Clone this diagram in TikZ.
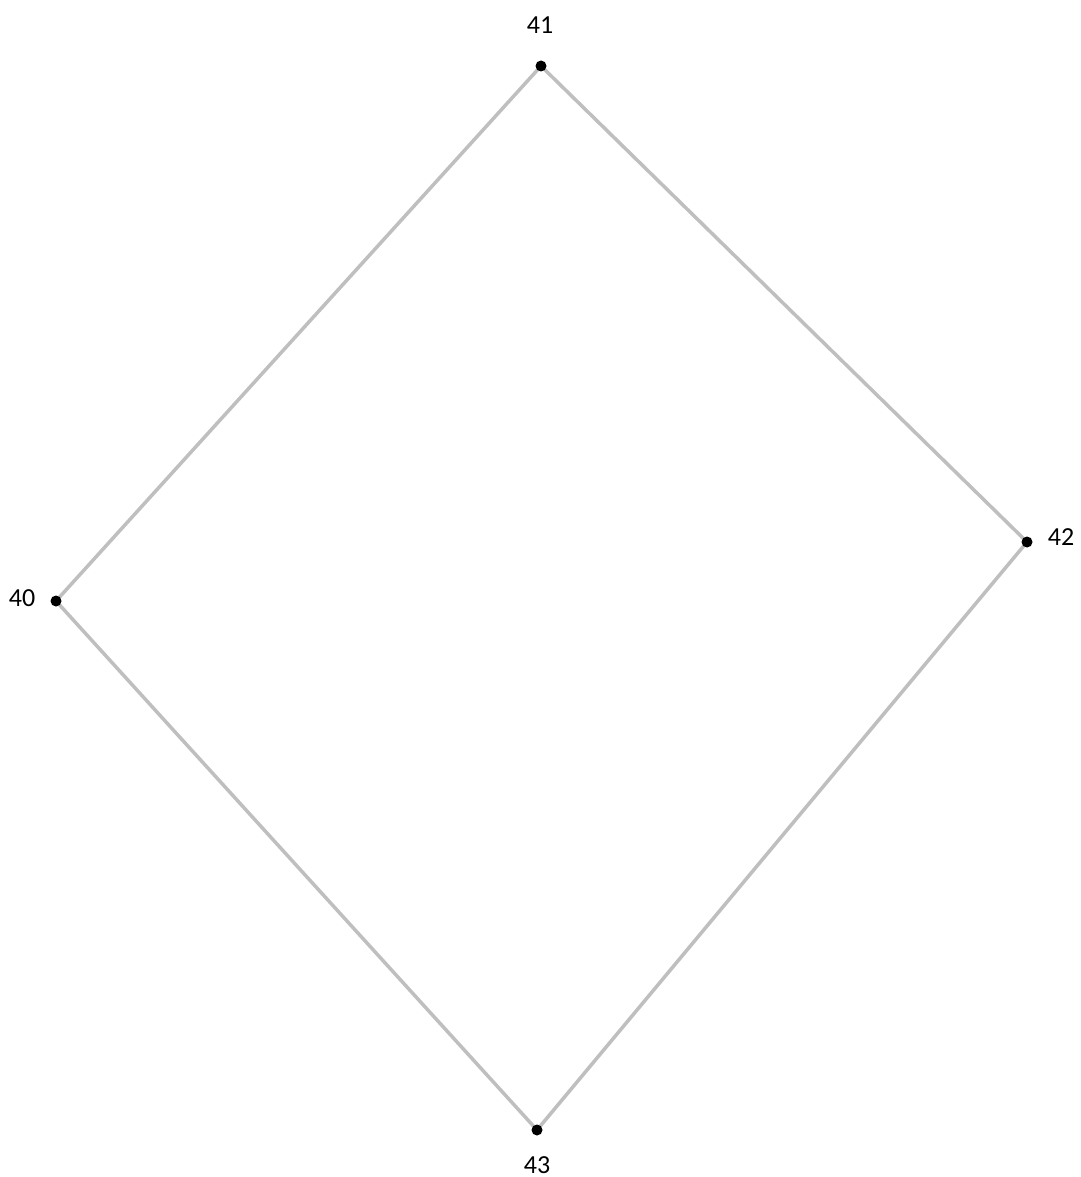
\documentclass[tikz,border=0pt]{standalone}
\usepackage{fontspec}
\setmainfont{Carlito}
\definecolor{edgegray}{HTML}{BFBFBF}
\begin{document}
\begin{tikzpicture}[x=1pt,y=-1pt,
  vtx/.style={circle,fill=black,inner sep=0pt,minimum size=11pt},
  lbl/.style={font=\fontsize{26}{30}\selectfont,inner sep=0pt},
  edge/.style={draw=edgegray,line width=3.5pt}]
\useasboundingbox (0,0) rectangle (1080,1177);
\coordinate (n41) at (541,66);
\coordinate (n42) at (1027,542);
\coordinate (n40) at (56,601);
\coordinate (n43) at (537,1130);
\draw[edge] (n41) -- (n42) -- (n43) -- (n40) -- cycle;
\node[vtx] (v41) at (n41) {};
\node[vtx] (v42) at (n42) {};
\node[vtx] (v40) at (n40) {};
\node[vtx] (v43) at (n43) {};
\node[lbl] (l41) at (540,25) {41};
\node[lbl] (l42) at (1061,537) {42};
\node[lbl] (l40) at (22,598) {40};
\node[lbl] (l43) at (537,1165) {43};
\end{tikzpicture}
\end{document}
